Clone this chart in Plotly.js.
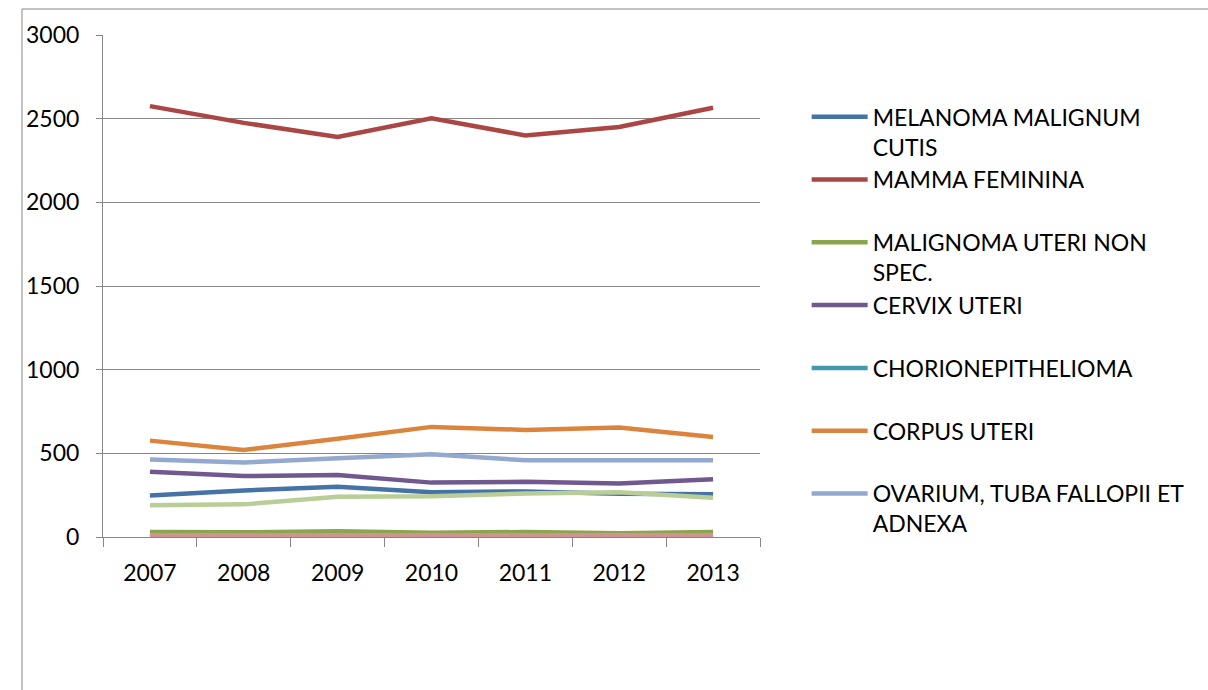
<!DOCTYPE html>
<html>
<head>
<meta charset="utf-8">
<script src="https://cdn.plot.ly/plotly-3.0.1.min.js"></script>
<style>html,body{margin:0;padding:0;background:#fff;} #chart{width:1208px;height:690px;}</style>
</head>
<body>
<div id="chart"></div>
<script>
var years = ['2007','2008','2009','2010','2011','2012','2013'];
var seriesNames = [
  'MELANOMA MALIGNUM<br>CUTIS',
  'MAMMA FEMININA<br> ',
  'MALIGNOMA UTERI NON<br>SPEC.',
  'CERVIX UTERI<br> ',
  'CHORIONEPITHELIOMA<br> ',
  'CORPUS UTERI<br> ',
  'OVARIUM, TUBA FALLOPII ET<br>ADNEXA',
  'SERIES 8',
  'SERIES 9'
];
var melanoma = [248, 278, 300, 268, 272, 258, 255];
var mamma = [2575, 2475, 2390, 2502, 2400, 2450, 2565];
var malignomaUteri = [30, 28, 35, 25, 30, 22, 30];
var cervix = [390, 364, 370, 325, 330, 320, 345];
var chorion = [2, 1, 2, 1, 1, 2, 1];
var corpus = [576, 520, 587, 658, 640, 655, 598];
var ovarium = [463, 445, 470, 495, 458, 455, 458];
var series8 = [10, 9, 10, 8, 10, 9, 10];
var series9 = [190, 195, 240, 243, 260, 267, 235];

var values = [melanoma, mamma, malignomaUteri, cervix, chorion, corpus, ovarium, series8, series9];
var colors = ['#4572A7','#AA4643','#89A54E','#71588F','#4198AF','#DB843D','#93A9CF','#D19392','#B9CD96'];

var traces = values.map(function(v, i){
  return {
    type: 'scatter', mode: 'lines', x: years, y: v, name: seriesNames[i],
    line: {color: colors[i], width: 4.5},
    showlegend: i < 7
  };
});

var FONT = 'Lato, "Liberation Sans", sans-serif';
var layout = {
  width: 1208, height: 690,
  margin: {l: 103, r: 448, t: 35, b: 153},
  paper_bgcolor: '#ffffff', plot_bgcolor: '#ffffff',
  font: {family: FONT, size: 23, color: '#000000'},
  showlegend: true,
  legend: {
    x: 1.071, y: 0.88, xanchor: 'left', yanchor: 'top',
    valign: 'top', itemwidth: 56, tracegroupgap: 0,
    font: {family: FONT, size: 23, color: '#000000'},
    bgcolor: 'rgba(0,0,0,0)', borderwidth: 0
  },
  xaxis: {
    type: 'category', range: [-0.5, 6.5],
    tickson: 'boundaries', ticks: 'outside', ticklen: 9, tickcolor: '#868686', tickwidth: 1,
    showline: true, linecolor: '#868686', linewidth: 1,
    showgrid: false, zeroline: false, fixedrange: true, ticklabelstandoff: 15
  },
  yaxis: {
    range: [0, 3000], dtick: 500, tick0: 0,
    ticks: 'outside', ticklen: 6, tickcolor: '#868686', tickwidth: 1,
    showline: true, linecolor: '#868686', linewidth: 1,
    showgrid: true, gridcolor: '#868686', gridwidth: 1,
    zeroline: false, ticklabelstandoff: 12, fixedrange: true
  },
  shapes: [{
    type: 'rect', xref: 'paper', yref: 'paper',
    x0: -0.1233, x1: 2, y0: -0.32, y1: 1.0518,
    line: {color: '#868686', width: 1}, fillcolor: 'rgba(0,0,0,0)', layer: 'below'
  }]
};

Plotly.newPlot('chart', traces, layout, {displayModeBar: false, staticPlot: true});
</script>
</body>
</html>
